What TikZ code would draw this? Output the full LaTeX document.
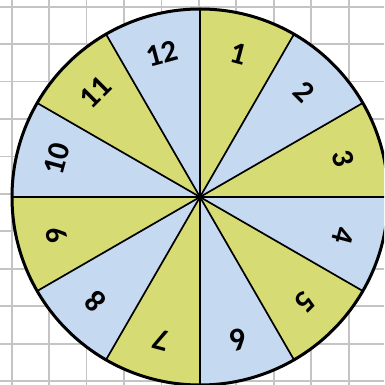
\documentclass[tikz,border=0pt]{standalone}
\usepackage{fontspec}
\setmainfont{Carlito}
\definecolor{wgreen}{RGB}{214,220,115}
\definecolor{wblue}{RGB}{197,217,241}
\definecolor{gridgray}{RGB}{196,196,196}
\begin{document}
\begin{tikzpicture}[x=1pt,y=1pt,
  gridline/.style={draw=gridgray,line width=1.8pt},
  spoke/.style={draw=black,line width=1.7pt},
  rim/.style={draw=black,line width=3pt},
  numlabel/.style={font=\fontsize{31}{31}\selectfont\bfseries,inner sep=0pt}]
\useasboundingbox (-200,-188) rectangle (184,197);
\begin{scope}
\clip (-200,-188) rectangle (184,197);
\foreach \k in {0,...,10} {
  \draw[gridline] ({-188.3+37.44*\k},-190) -- ({-188.3+37.44*\k},199);
  \draw[gridline] (-202,{190.3-37.44*\k}) -- (186,{190.3-37.44*\k});
}
\foreach \k in {1,...,12} {
  \pgfmathtruncatemacro{\a}{90-30*(\k-1)}
  \pgfmathtruncatemacro{\b}{\a-30}
  \ifodd\k \def\sc{wgreen}\else \def\sc{wblue}\fi
  \fill[fill=\sc] (0,0) -- (\a:188) arc[start angle=\a, end angle=\b, radius=188] -- cycle;
}
\foreach \a in {0,30,...,150} {
  \draw[spoke] (\a:188) -- (\a+180:188);
}
\draw[rim] (0,0) circle[radius=188];
\foreach \k in {1,...,12} {
  \pgfmathtruncatemacro{\c}{75-30*(\k-1)}
  \pgfmathtruncatemacro{\r}{\c-90}
  \node[numlabel, rotate=\r] (n\k) at (\c:148) {\k};
}
\end{scope}
\end{tikzpicture}
\end{document}
